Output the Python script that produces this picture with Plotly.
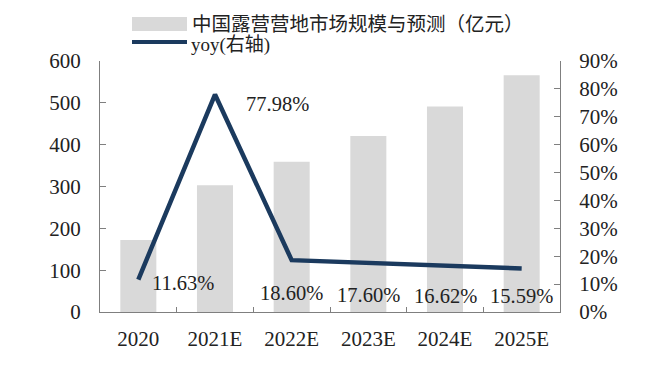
import plotly.graph_objects as go

categories = ["2020", "2021E", "2022E", "2023E", "2024E", "2025E"]
market_size = [172, 303, 359, 421, 491, 566]
yoy = [11.63, 77.98, 18.60, 17.60, 16.62, 15.59]
left_ticks = [0, 100, 200, 300, 400, 500, 600]
right_ticks = [0, 10, 20, 30, 40, 50, 60, 70, 80, 90]
bar_name = "中国露营营地市场规模与预测（亿元）"
line_name = "yoy(右轴)"

BAR_COLOR = "#d9d9d9"
LINE_COLOR = "#1b3a5e"
AXIS_COLOR = "#7f7f7f"
SERIF = "Times New Roman, Liberation Serif, serif"
CJK = "Noto Sans CJK SC, sans-serif"

# page body has an 8px margin: figure drawn 8px right/down from the window corner
OFF = 8
PLOT_L, PLOT_R, PLOT_T, PLOT_B = 100, 560, 61, 312
W, H = 657 - OFF, 370 - OFF
PW, PH = PLOT_R - PLOT_L, PLOT_B - PLOT_T

def px(x):
    return (x - PLOT_L) / PW

def py(y):
    return (PLOT_B - y) / PH

fig = go.Figure()
fig.add_trace(go.Bar(x=categories, y=market_size, marker_color=BAR_COLOR,
                     marker_line_width=0, name=bar_name, yaxis="y", showlegend=False))
fig.add_trace(go.Scatter(x=categories, y=yoy, mode="lines", name=line_name,
                         line=dict(color=LINE_COLOR, width=4.5), yaxis="y2",
                         showlegend=False))

# data labels (x given as category index)
label_offsets = [(45, -3, False), (62, -9, False), (0, 19, True), (0, 17, True), (0, 16, True), (0, 16, True)]
for i, (v, (dx, dy, bottom)) in enumerate(zip(yoy, label_offsets)):
    fig.add_annotation(x=i, y=0 if bottom else v, xref="x", yref="y2",
                       text=f"{v:.2f}%", showarrow=False, xshift=dx, yshift=dy,
                       font=dict(family=SERIF, size=20.5, color="#222222"))

# custom legend
fig.add_shape(type="rect", xref="paper", yref="paper", x0=px(132), x1=px(187),
              y0=py(31), y1=py(17), fillcolor=BAR_COLOR, line_width=0)
fig.add_shape(type="line", xref="paper", yref="paper", x0=px(132), x1=px(187),
              y0=py(42), y1=py(42), line=dict(color=LINE_COLOR, width=4))
fig.add_annotation(xref="paper", yref="paper", x=px(190), y=py(23),
                   xanchor="left", yanchor="middle", showarrow=False, text=bar_name,
                   font=dict(family=CJK, size=19.5, color="#222222"))
fig.add_annotation(xref="paper", yref="paper", x=px(189), y=py(42),
                   xanchor="left", yanchor="middle", showarrow=False,
                   text=f"<span style='font-family:{SERIF}'>yoy(</span>右轴<span style='font-family:{SERIF}'>)</span>",
                   font=dict(family=CJK, size=19, color="#222222"))

fig.update_layout(
    width=W, height=H,
    margin=dict(l=PLOT_L - OFF, r=W - (PLOT_R - OFF), t=PLOT_T - OFF, b=H - (PLOT_B - OFF)),
    paper_bgcolor="white", plot_bgcolor="white",
    bargap=0.53,
    font=dict(family=SERIF, size=21, color="#222222"),
    xaxis=dict(type="category", range=[-0.5, len(categories) - 0.5], showline=True,
               linecolor=AXIS_COLOR, linewidth=1.3, automargin=False,
               ticks="inside", ticklen=5, tickcolor=AXIS_COLOR, tickson="boundaries",
               showgrid=False, ticklabelstandoff=8, tickfont=dict(size=21)),
    yaxis=dict(range=[0, 600], tickvals=left_ticks, showline=True, linecolor=AXIS_COLOR,
               linewidth=1.3, ticks="inside", ticklen=6, tickcolor=AXIS_COLOR, automargin=False,
               showgrid=False, zeroline=False, ticklabelstandoff=14, tickfont=dict(size=21)),
    yaxis2=dict(range=[0, 90], tickvals=right_ticks, ticktext=[f"{t}%" for t in right_ticks],
                overlaying="y", side="right", showline=True, linecolor=AXIS_COLOR,
                linewidth=1.3, ticks="inside", ticklen=6, tickcolor=AXIS_COLOR, automargin=False,
                showgrid=False, zeroline=False, ticklabelstandoff=14, tickfont=dict(size=21)),
)

fig.write_html("out.html")
